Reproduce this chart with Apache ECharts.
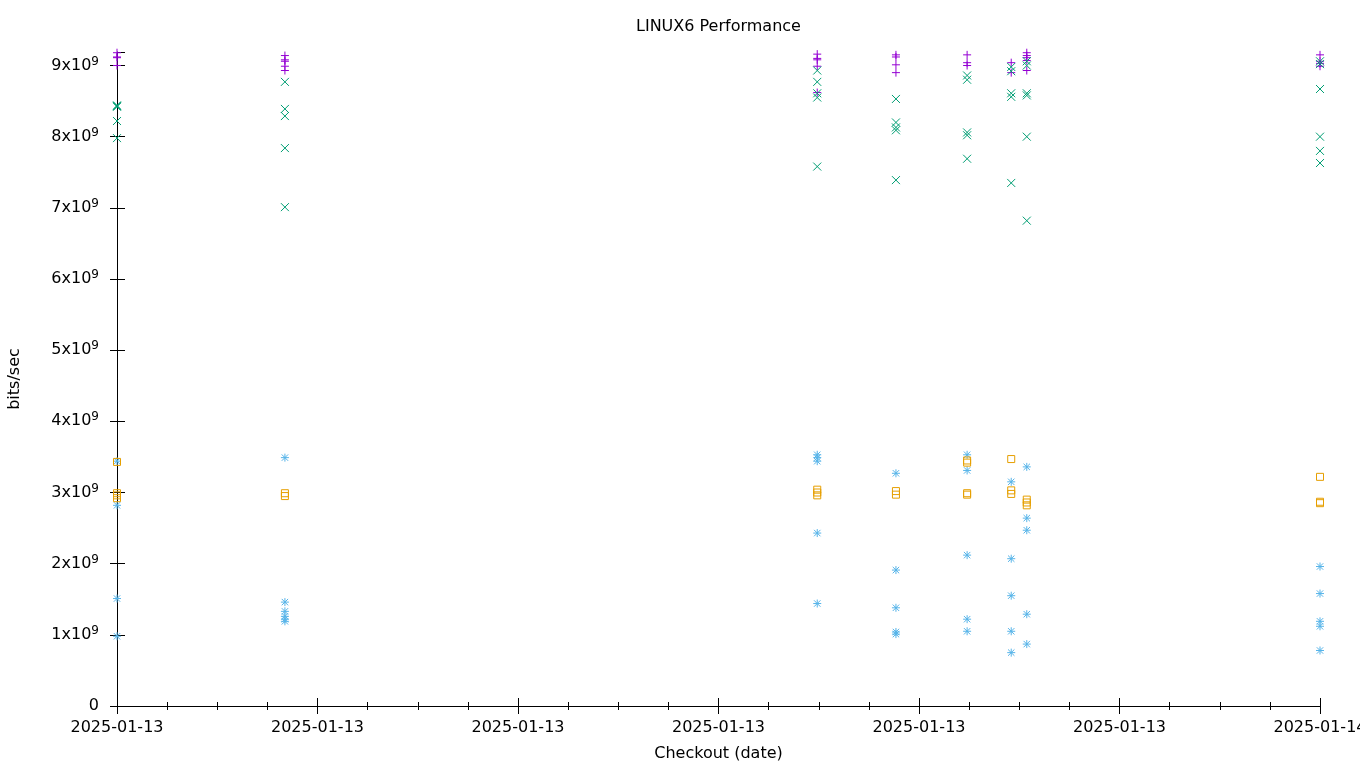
<!DOCTYPE html>
<html>
<head>
<meta charset="utf-8">
<script src="https://cdn.jsdelivr.net/npm/echarts@6/dist/echarts.min.js"></script>
<style>
html,body{margin:0;padding:0;background:#fff;overflow:hidden;width:1360px;height:768px;}
#chart{width:1360px;height:768px;}
</style>
</head>
<body>
<div id="chart"></div>
<script>
// Checkout times (hours after 2025-01-13 00:00)
const checkoutHours = [0, 3.35, 13.97, 15.54, 16.96, 17.84, 18.15, 24];
// Values in bits/sec, grouped per checkout
const purplePlus = [
  [9.18e9, 9.12e9, 9.11e9, 9.00e9],
  [9.14e9, 9.08e9, 9.06e9, 8.99e9, 8.93e9],
  [9.16e9, 9.10e9, 9.08e9, 8.99e9, 8.62e9],
  [9.15e9, 9.12e9, 9.01e9, 8.90e9],
  [9.15e9, 9.04e9, 9.00e9],
  [9.20e9, 9.04e9, 8.90e9],
  [9.18e9, 9.14e9, 9.11e9, 9.07e9, 8.93e9],
  [9.15e9, 9.06e9, 9.03e9, 8.99e9]
];
const greenCross = [
  [8.44e9, 8.43e9, 8.42e9, 8.22e9, 7.98e9],
  [8.77e9, 8.39e9, 8.29e9, 7.84e9, 7.01e9],
  [8.93e9, 8.77e9, 8.61e9, 8.55e9, 7.58e9],
  [8.53e9, 8.20e9, 8.13e9, 8.09e9, 7.39e9],
  [8.86e9, 8.80e9, 8.06e9, 8.02e9, 7.69e9],
  [8.98e9, 8.92e9, 8.61e9, 8.56e9, 7.35e9],
  [9.06e9, 9.00e9, 8.61e9, 8.58e9, 8.00e9, 6.82e9],
  [9.06e9, 9.02e9, 8.67e9, 8.00e9, 7.80e9, 7.63e9]
];
const blueStar = [
  [3.44e9, 2.82e9, 1.51e9, 0.98e9],
  [3.49e9, 1.46e9, 1.33e9, 1.26e9, 1.22e9, 1.19e9],
  [3.53e9, 3.49e9, 3.44e9, 2.43e9, 1.44e9],
  [3.27e9, 1.91e9, 1.38e9, 1.04e9, 1.01e9],
  [3.53e9, 3.31e9, 2.12e9, 1.22e9, 1.05e9],
  [3.15e9, 2.07e9, 1.55e9, 1.05e9, 0.75e9],
  [3.36e9, 2.64e9, 2.47e9, 1.29e9, 0.87e9],
  [1.96e9, 1.58e9, 1.19e9, 1.12e9, 0.78e9]
];
const orangeSquare = [
  [3.43e9, 2.99e9, 2.96e9, 2.92e9],
  [2.99e9, 2.95e9],
  [3.04e9, 3.00e9, 2.96e9],
  [3.02e9, 2.97e9],
  [3.45e9, 3.42e9, 2.99e9, 2.97e9],
  [3.47e9, 3.03e9, 2.98e9],
  [2.90e9, 2.86e9, 2.82e9],
  [3.22e9, 2.87e9, 2.85e9]
];
const xTickLabelDay = '2025-01-13';
const xTickLabelNextDay = '2025-01-14';

function build(groups) {
  const out = [];
  groups.forEach((vals, i) => vals.forEach(v => out.push([checkoutHours[i], v])));
  return out;
}

const FONT = 'DejaVu Sans';
const chart = echarts.init(document.getElementById('chart'), null, {renderer: 'canvas', width: 1360, height: 768});

const plusPath = 'path://M5,0 L5,10 M0,5 L10,5';
const crossPath = 'path://M0,0 L10,10 M10,0 L0,10';
const starPath = 'path://M5,0 L5,10 M0,5 L10,5 M1,1 L9,9 M9,1 L1,9';
const squarePath = 'path://M0,0 L10,0 L10,10 L0,10 Z';

function series(name, groups, symbol, color, size) {
  return {
    name: name,
    type: 'scatter',
    data: build(groups),
    symbol: symbol,
    symbolSize: size,
    itemStyle: {color: 'rgba(0,0,0,0)', borderColor: color, borderWidth: 1, opacity: 1},
    emphasis: {disabled: true},
    animation: false,
    xAxisIndex: 0,
    yAxisIndex: 0
  };
}

const xCommon = {type: 'value', min: 0, max: 24, interval: 4, splitLine: {show: false}};
const yCommon = {type: 'value', min: 0, max: 9.19e9, interval: 1e9, splitLine: {show: false}};

chart.setOption({
  animation: false,
  backgroundColor: '#fff',
  textStyle: {fontFamily: FONT},
  title: {
    text: 'LINUX6 Performance',
    left: 636,
    top: 19,
    padding: 0,
    textStyle: {fontFamily: FONT, fontSize: 16, fontWeight: 'normal', color: '#000'}
  },
  grid: {left: 117, right: 40, top: 52, bottom: 62, containLabel: false, outerBoundsMode: 'none'},
  xAxis: [
    Object.assign({}, xCommon, {
      position: 'bottom',
      name: 'Checkout (date)',
      nameLocation: 'middle',
      nameGap: 40,
      nameTextStyle: {fontFamily: FONT, fontSize: 16, color: '#000'},
      axisLine: {show: true, onZero: false, lineStyle: {color: '#000', width: 1}},
      axisTick: {show: true, length: 8, lineStyle: {color: '#000', width: 1}},
      minorTick: {show: true, splitNumber: 4, length: 4, lineStyle: {color: '#000', width: 1}},
      axisLabel: {
        margin: 14, fontFamily: FONT, fontSize: 16, color: '#000',
        formatter: v => (v >= 24 ? xTickLabelNextDay : xTickLabelDay)
      }
    }),
    Object.assign({}, xCommon, {
      position: 'top',
      axisLine: {show: false},
      axisTick: {show: true, length: 8, lineStyle: {color: '#000', width: 1}},
      minorTick: {show: true, splitNumber: 4, length: 4, lineStyle: {color: '#000', width: 1}},
      axisLabel: {show: false}
    })
  ],
  yAxis: [
    Object.assign({}, yCommon, {
      position: 'left',
      name: 'bits/sec',
      nameLocation: 'middle',
      nameGap: 94,
      nameRotate: 90,
      nameTextStyle: {fontFamily: FONT, fontSize: 16, color: '#000'},
      axisLine: {show: true, onZero: false, lineStyle: {color: '#000', width: 1}},
      axisTick: {show: true, length: 7, lineStyle: {color: '#000', width: 1}},
      axisLabel: {
        margin: 18, color: '#000',
        formatter: v => (v === 0 ? '{a|0}' : '{a|' + Math.round(v / 1e9) + 'x10}{s|9}'),
        rich: {
          a: {fontFamily: FONT, fontSize: 16, color: '#000'},
          s: {fontFamily: FONT, fontSize: 12, color: '#000', padding: [0, 0, 8, 0]}
        }
      }
    }),
    Object.assign({}, yCommon, {
      position: 'right',
      axisLine: {show: false},
      axisTick: {show: true, length: 8, lineStyle: {color: '#000', width: 1}},
      axisLabel: {show: false}
    })
  ],
  series: [
    series('purple', purplePlus, plusPath, '#9400D3', 8),
    series('green', greenCross, crossPath, '#009E73', 8),
    series('blue', blueStar, starPath, '#56B4E9', 8),
    series('orange', orangeSquare, squarePath, '#E69F00', 7)
  ]
});
</script>
</body>
</html>
